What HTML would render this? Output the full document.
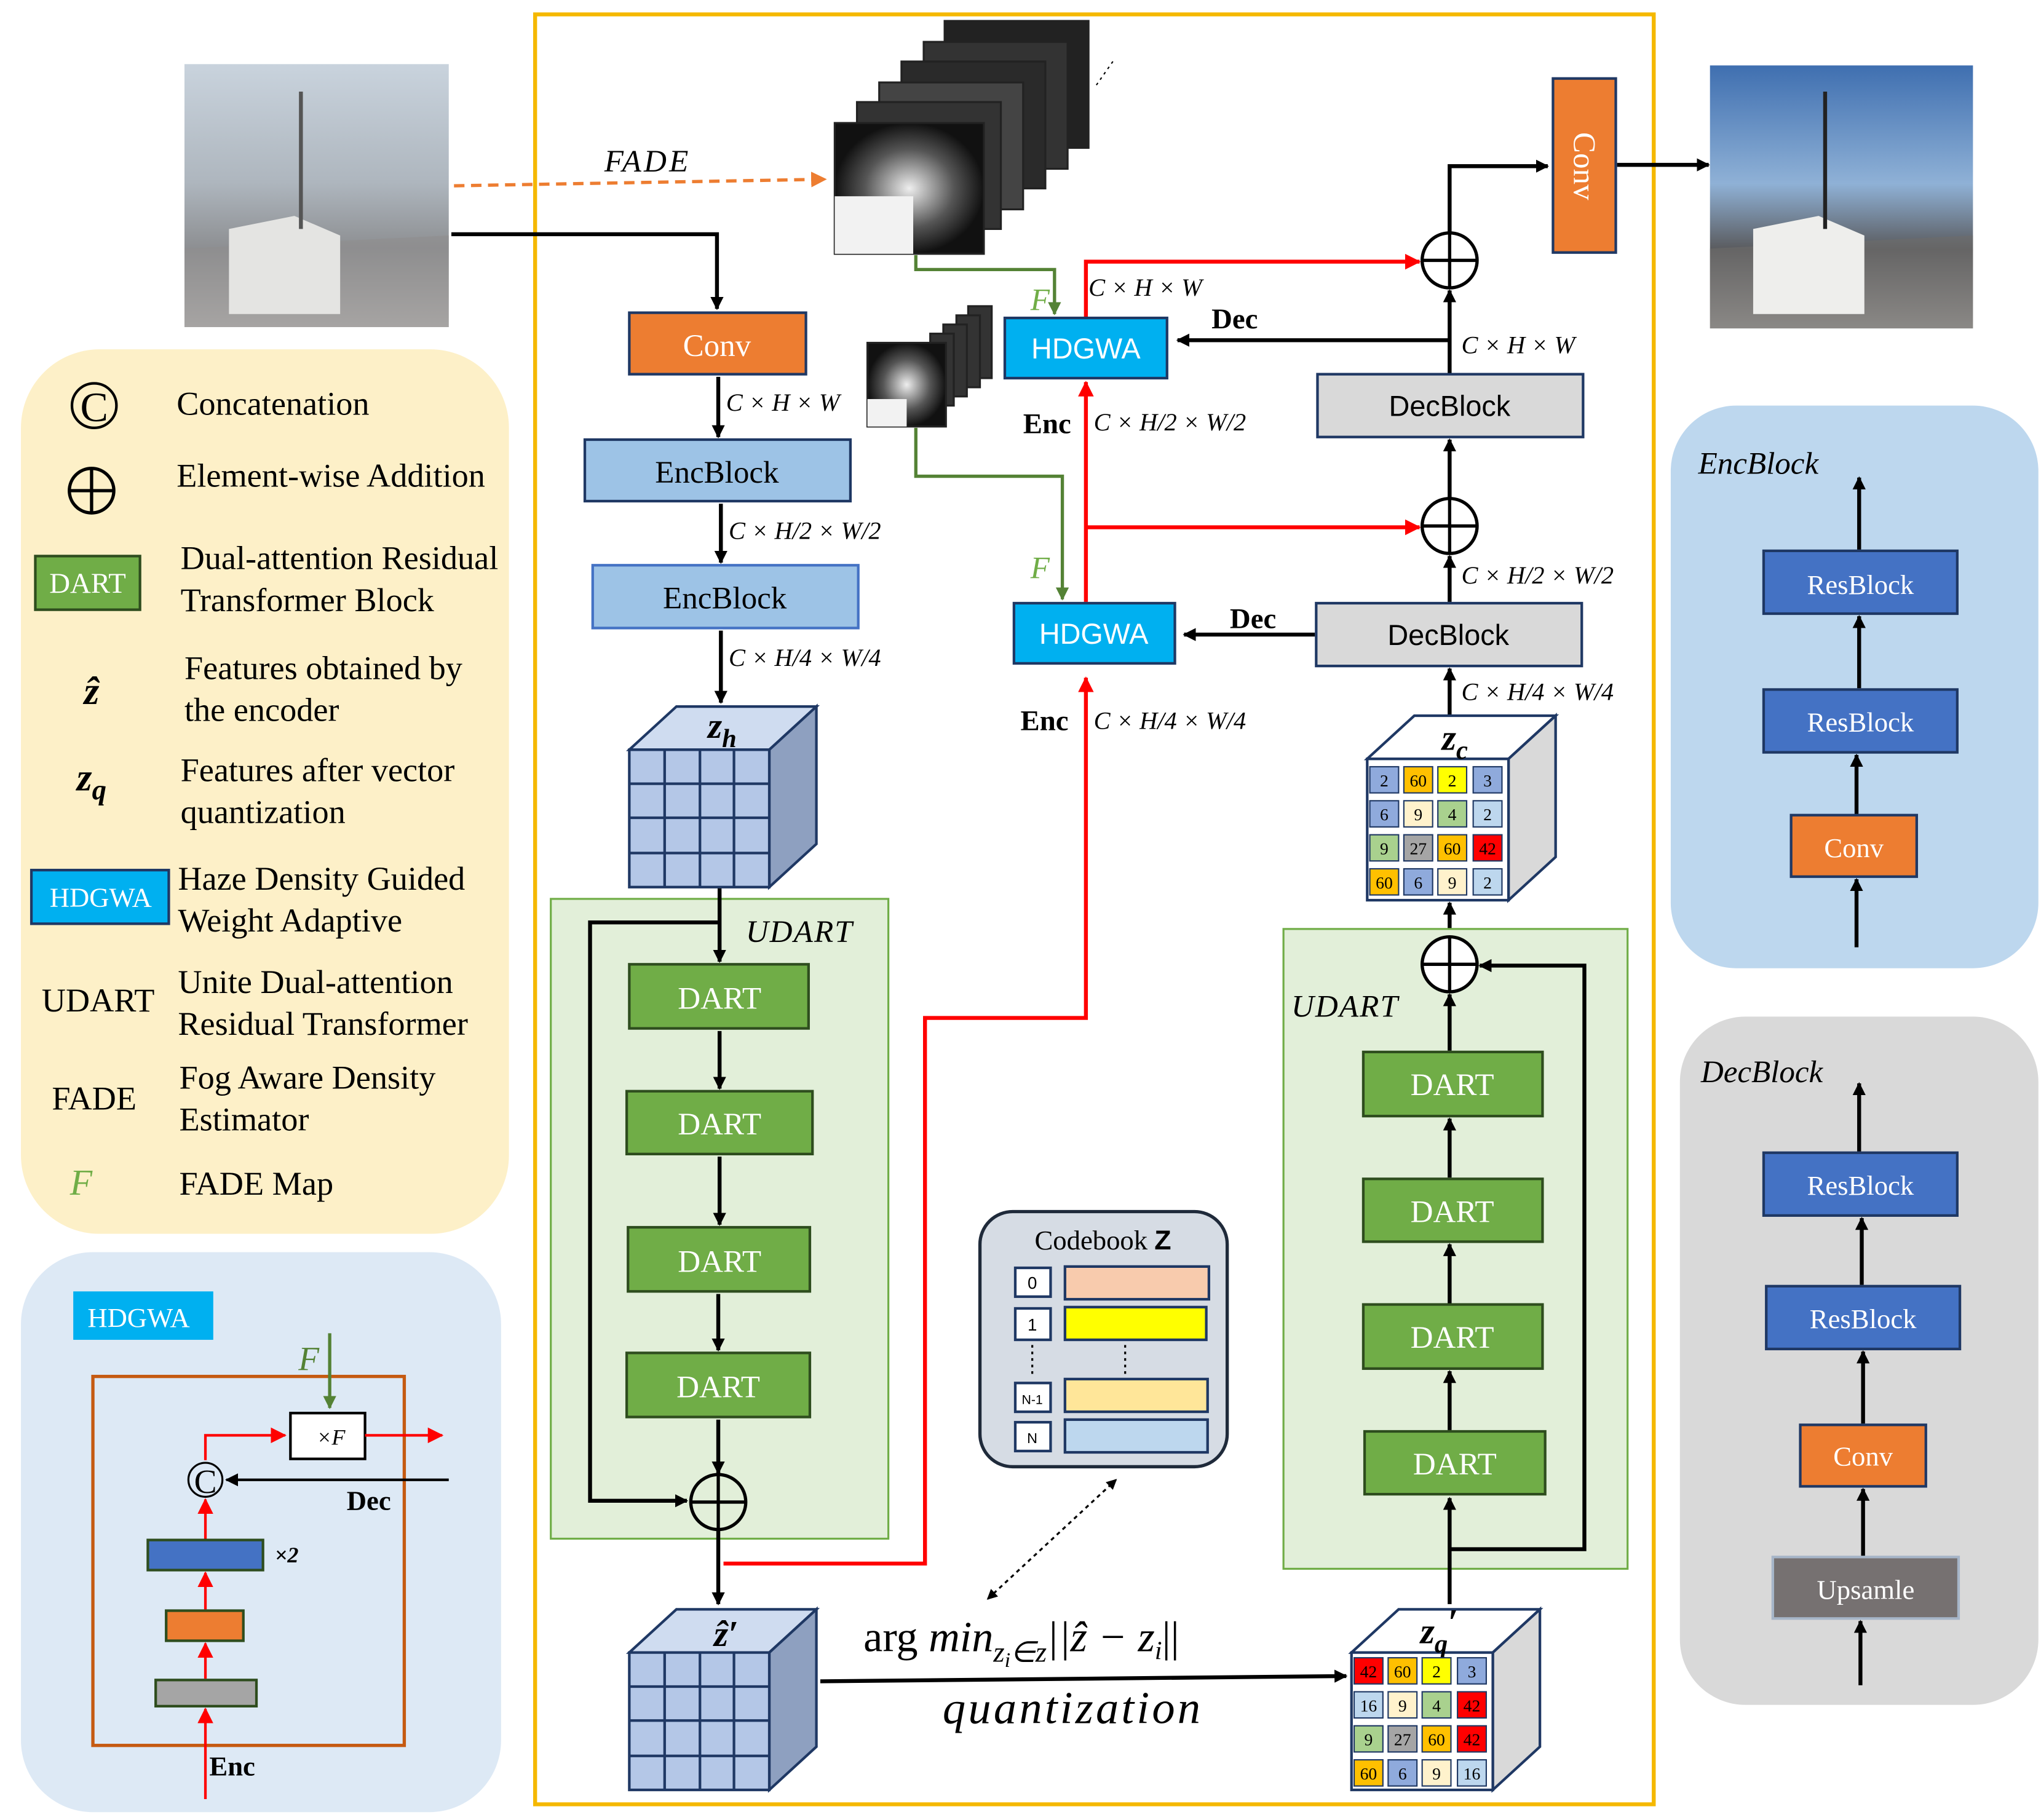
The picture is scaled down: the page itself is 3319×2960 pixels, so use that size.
<!DOCTYPE html>
<html><head><meta charset="utf-8"><style>
html,body{margin:0;padding:0;background:#fff;}
svg{display:block;}
text{font-family:"Liberation Serif",serif;}
.s{font-family:"Liberation Sans",sans-serif;}
</style></head><body>
<svg width="3319" height="2960" viewBox="0 0 1560 1391" preserveAspectRatio="none" xmlns="http://www.w3.org/2000/svg">
<defs>
<marker id="ab" markerWidth="10" markerHeight="10" refX="9" refY="5" orient="auto" markerUnits="userSpaceOnUse"><path d="M0,0 L10,5 L0,10 z" fill="#000"/></marker>
<marker id="ar" markerWidth="12" markerHeight="12" refX="11" refY="6" orient="auto" markerUnits="userSpaceOnUse"><path d="M0,0 L12,6 L0,12 z" fill="#f00"/></marker>
<marker id="ag" markerWidth="10" markerHeight="10" refX="9" refY="5" orient="auto" markerUnits="userSpaceOnUse"><path d="M0,0 L10,5 L0,10 z" fill="#548235"/></marker>
<marker id="ao" markerWidth="12" markerHeight="12" refX="11" refY="6" orient="auto" markerUnits="userSpaceOnUse"><path d="M0,0 L12,6 L0,12 z" fill="#ed7d31"/></marker>
<marker id="ad" markerWidth="8" markerHeight="8" refX="7" refY="4" orient="auto-start-reverse" markerUnits="userSpaceOnUse"><path d="M0,0 L8,4 L0,8 z" fill="#000"/></marker>
<linearGradient id="sky1" x1="0" y1="0" x2="0" y2="1"><stop offset="0" stop-color="#c9d3dd"/><stop offset="0.45" stop-color="#aeb6be"/><stop offset="0.7" stop-color="#8d8f92"/><stop offset="1" stop-color="#c8c5c2"/></linearGradient>
<linearGradient id="sky2" x1="0" y1="0" x2="0" y2="1"><stop offset="0" stop-color="#3f6fb0"/><stop offset="0.45" stop-color="#8fb1d6"/><stop offset="0.7" stop-color="#5a5b5e"/><stop offset="1" stop-color="#b5b2ae"/></linearGradient>
<radialGradient id="fm"><stop offset="0" stop-color="#eee"/><stop offset="0.6" stop-color="#555"/><stop offset="1" stop-color="#111"/></radialGradient>
</defs>

<!-- photos -->
<rect x="141" y="49" width="202" height="201" fill="url(#sky1)"/>
<path d="M141,190 L343,180 L343,250 L141,250z" fill="#8f8e8d" opacity="0.6"/>
<path d="M175,175 l50,-10 l35,15 l0,60 l-85,0z" fill="#e4e4e2"/>
<line x1="230" y1="70" x2="230" y2="175" stroke="#555" stroke-width="3"/>
<rect x="1307" y="50" width="201" height="201" fill="url(#sky2)"/>
<path d="M1307,190 L1508,180 L1508,251 L1307,251z" fill="#6e6c6a" opacity="0.6"/>
<path d="M1340,175 l50,-10 l35,15 l0,60 l-85,0z" fill="#eeeeec"/>
<line x1="1395" y1="70" x2="1395" y2="175" stroke="#222" stroke-width="3"/>

<!-- frame -->
<rect x="409" y="11" width="855" height="1368" fill="none" stroke="#f5b800" stroke-width="3"/>

<!-- legend -->
<rect x="16" y="267" width="373" height="676" rx="60" fill="#fdf0c8"/>
<circle cx="72" cy="310" r="17" fill="none" stroke="#000" stroke-width="2"/><text x="72" y="322" font-size="32" text-anchor="middle">C</text>
<g font-size="25.5">
<text x="135" y="317">Concatenation</text>
<text x="135" y="372">Element-wise Addition</text>
<text x="138" y="435">Dual-attention Residual</text><text x="138" y="467">Transformer Block</text>
<text x="141" y="519">Features obtained by</text><text x="141" y="551">the encoder</text>
<text x="138" y="597">Features after vector</text><text x="138" y="629">quantization</text>
<text x="136" y="680">Haze Density Guided</text><text x="136" y="712">Weight Adaptive</text>
<text x="75" y="773" text-anchor="middle">UDART</text>
<text x="136" y="759">Unite Dual-attention</text><text x="136" y="791">Residual Transformer</text>
<text x="72" y="848" text-anchor="middle">FADE</text>
<text x="137" y="832">Fog Aware Density</text><text x="137" y="864">Estimator</text>
<text x="137" y="913">FADE Map</text>
</g>
<circle cx="70" cy="375" r="17" fill="none" stroke="#000" stroke-width="2.5"/><line x1="53" y1="375" x2="87" y2="375" stroke="#000" stroke-width="2.5"/><line x1="70" y1="358" x2="70" y2="392" stroke="#000" stroke-width="2.5"/>
<rect x="27" y="425" width="80" height="41" fill="#70ad47" stroke="#2e4d1e" stroke-width="2"/><text x="67" y="453" font-size="22" fill="#fff" text-anchor="middle">DART</text>
<text x="70" y="538" font-size="30" font-style="italic" font-weight="bold" text-anchor="middle">ẑ</text>
<text x="70" y="604" font-size="30" font-style="italic" font-weight="bold" text-anchor="middle">z<tspan font-size="22" dy="7">q</tspan></text>
<rect x="24" y="665" width="105" height="41" fill="#00b0f0" stroke="#1f3864" stroke-width="2"/><text x="77" y="693" font-size="21" fill="#fff" text-anchor="middle">HDGWA</text>
<text x="62" y="913" font-size="28" font-style="italic" fill="#70ad47" text-anchor="middle">F</text>

<!-- HDGWA inset -->
<rect x="16" y="957" width="367" height="428" rx="55" fill="#dde9f5"/>
<rect x="56" y="987" width="107" height="37" fill="#00b0f0"/><text x="106" y="1014" font-size="21" fill="#fff" text-anchor="middle">HDGWA</text>
<rect x="71" y="1052" width="238" height="282" fill="none" stroke="#c55a11" stroke-width="2.5"/>
<line x1="252" y1="1019" x2="252" y2="1076" stroke="#548235" stroke-width="2.5" marker-end="url(#ag)"/>
<text x="236" y="1047" font-size="26" font-style="italic" fill="#548235" text-anchor="middle">F</text>
<rect x="222" y="1080" width="57" height="35" fill="#fff" stroke="#000" stroke-width="2"/><text x="253" y="1104" font-size="17" font-style="italic" text-anchor="middle">×F</text>
<polyline points="157,1116 157,1097 218,1097" fill="none" stroke="#f00" stroke-width="2" marker-end="url(#ar)"/>
<line x1="279" y1="1097" x2="338" y2="1097" stroke="#f00" stroke-width="2" marker-end="url(#ar)"/>
<circle cx="157" cy="1131" r="13" fill="none" stroke="#000" stroke-width="1.5"/><text x="157" y="1141" font-size="26" text-anchor="middle">C</text>
<line x1="343" y1="1131" x2="173" y2="1131" stroke="#000" stroke-width="2" marker-end="url(#ab)"/>
<text x="265" y="1154" font-size="21" font-weight="bold">Dec</text>
<rect x="113" y="1177" width="88" height="23" fill="#4472c4" stroke="#2e4d1e" stroke-width="2"/>
<text x="210" y="1194" font-size="17" font-weight="bold" font-style="italic">×2</text>
<rect x="127" y="1231" width="59" height="23" fill="#ed7d31" stroke="#2e4d1e" stroke-width="2"/>
<rect x="119" y="1284" width="77" height="20" fill="#a5a5a5" stroke="#2e4d1e" stroke-width="2"/>
<line x1="157" y1="1176" x2="157" y2="1146" stroke="#f00" stroke-width="2" marker-end="url(#ar)"/>
<line x1="157" y1="1230" x2="157" y2="1202" stroke="#f00" stroke-width="2" marker-end="url(#ar)"/>
<line x1="157" y1="1283" x2="157" y2="1256" stroke="#f00" stroke-width="2" marker-end="url(#ar)"/>
<line x1="157" y1="1375" x2="157" y2="1306" stroke="#f00" stroke-width="2" marker-end="url(#ar)"/>
<text x="160" y="1357" font-size="21" font-weight="bold">Enc</text>

<!-- EncBlock side -->
<rect x="1277" y="310" width="281" height="430" rx="50" fill="#bdd7ee"/>
<text x="1298" y="362" font-size="24" font-style="italic">EncBlock</text>
<rect x="1348" y="421" width="148" height="48" fill="#4472c4" stroke="#1f3864" stroke-width="2"/><text x="1422" y="454" font-size="21" fill="#fff" text-anchor="middle">ResBlock</text>
<rect x="1348" y="527" width="148" height="48" fill="#4472c4" stroke="#1f3864" stroke-width="2"/><text x="1422" y="559" font-size="21" fill="#fff" text-anchor="middle">ResBlock</text>
<rect x="1369" y="623" width="96" height="47" fill="#ed7d31" stroke="#1f3864" stroke-width="2"/><text x="1417" y="655" font-size="21" fill="#fff" text-anchor="middle">Conv</text>
<line x1="1421" y1="420" x2="1421" y2="365" stroke="#000" stroke-width="3" marker-end="url(#ab)"/>
<line x1="1421" y1="526" x2="1421" y2="471" stroke="#000" stroke-width="3" marker-end="url(#ab)"/>
<line x1="1419" y1="622" x2="1419" y2="577" stroke="#000" stroke-width="3" marker-end="url(#ab)"/>
<line x1="1419" y1="724" x2="1419" y2="672" stroke="#000" stroke-width="3" marker-end="url(#ab)"/>

<!-- DecBlock side -->
<rect x="1284" y="777" width="274" height="526" rx="50" fill="#d9d9d9"/>
<text x="1300" y="827" font-size="24" font-style="italic">DecBlock</text>
<rect x="1348" y="881" width="148" height="48" fill="#4472c4" stroke="#1f3864" stroke-width="2"/><text x="1422" y="913" font-size="21" fill="#fff" text-anchor="middle">ResBlock</text>
<rect x="1350" y="983" width="148" height="48" fill="#4472c4" stroke="#1f3864" stroke-width="2"/><text x="1424" y="1015" font-size="21" fill="#fff" text-anchor="middle">ResBlock</text>
<rect x="1376" y="1089" width="96" height="47" fill="#ed7d31" stroke="#1f3864" stroke-width="2"/><text x="1424" y="1120" font-size="21" fill="#fff" text-anchor="middle">Conv</text>
<rect x="1355" y="1190" width="142" height="47" fill="#767171" stroke="#a6b5c8" stroke-width="2"/><text x="1426" y="1222" font-size="21" fill="#fff" text-anchor="middle">Upsamle</text>
<line x1="1421" y1="880" x2="1421" y2="828" stroke="#000" stroke-width="3" marker-end="url(#ab)"/>
<line x1="1423" y1="982" x2="1423" y2="931" stroke="#000" stroke-width="3" marker-end="url(#ab)"/>
<line x1="1424" y1="1088" x2="1424" y2="1033" stroke="#000" stroke-width="3" marker-end="url(#ab)"/>
<line x1="1424" y1="1189" x2="1424" y2="1138" stroke="#000" stroke-width="3" marker-end="url(#ab)"/>
<line x1="1422" y1="1288" x2="1422" y2="1239" stroke="#000" stroke-width="3" marker-end="url(#ab)"/>

<!-- feature map stacks -->
<g stroke="#222" stroke-width="1.5">
<rect x="722" y="16" width="110" height="97" fill="#222"/>
<rect x="706" y="32" width="110" height="97" fill="#333"/>
<rect x="689" y="47" width="110" height="97" fill="#2a2a2a"/>
<rect x="672" y="63" width="110" height="97" fill="#444"/>
<rect x="655" y="78" width="110" height="97" fill="#333"/>
<rect x="638" y="94" width="114" height="100" fill="url(#fm)"/>
<rect x="740" y="234" width="18" height="55" fill="#333"/>
<rect x="731" y="241" width="18" height="55" fill="#333"/>
<rect x="721" y="248" width="18" height="55" fill="#333"/>
<rect x="711" y="255" width="18" height="55" fill="#333"/>
<rect x="663" y="262" width="60" height="64" fill="url(#fm)"/>
</g>
<rect x="638" y="150" width="60" height="44" fill="#f2f2f2"/>
<rect x="663" y="305" width="30" height="21" fill="#f2f2f2"/>
<line x1="838" y1="65" x2="852" y2="45" stroke="#000" stroke-dasharray="2,3"/>

<!-- FADE -->
<line x1="347" y1="142" x2="631" y2="137" stroke="#ed7d31" stroke-width="2.5" stroke-dasharray="8,5" marker-end="url(#ao)"/>
<text x="495" y="131" font-size="24" font-style="italic" text-anchor="middle" letter-spacing="2">FADE</text>
<polyline points="345,179 548,179 548,236" fill="none" stroke="#000" stroke-width="3" marker-end="url(#ab)"/>

<!-- encoder -->
<rect x="481" y="239" width="135" height="47" fill="#ed7d31" stroke="#1f3864" stroke-width="2"/><text x="548" y="272" font-size="24" fill="#fff" text-anchor="middle">Conv</text>
<line x1="549" y1="288" x2="549" y2="334" stroke="#000" stroke-width="3" marker-end="url(#ab)"/>
<text x="555" y="314" font-size="19" font-style="italic">C × H × W</text>
<rect x="447" y="336" width="203" height="47" fill="#9dc3e6" stroke="#1f3864" stroke-width="2"/><text x="548" y="369" font-size="24" text-anchor="middle">EncBlock</text>
<line x1="551" y1="385" x2="551" y2="430" stroke="#000" stroke-width="3" marker-end="url(#ab)"/>
<text x="557" y="412" font-size="19" font-style="italic">C × H/2 × W/2</text>
<rect x="453" y="432" width="203" height="48" fill="#9dc3e6" stroke="#4472c4" stroke-width="2"/><text x="554" y="465" font-size="24" text-anchor="middle">EncBlock</text>
<line x1="551" y1="482" x2="551" y2="537" stroke="#000" stroke-width="3" marker-end="url(#ab)"/>
<text x="557" y="509" font-size="19" font-style="italic">C × H/4 × W/4</text>

<!-- zh cube -->
<g stroke="#1f3864" stroke-width="2">
<path d="M481,573 L517,540 L624,540 L588,573z" fill="#cfdcf0"/>
<path d="M588,573 L624,540 L624,645 L588,678z" fill="#8ea0c0"/>
<rect x="481" y="573" width="107" height="105" fill="#b4c7e7"/>
<path d="M508,573V678M535,573V678M561,573V678M481,599H588M481,625H588M481,652H588" fill="none"/>
</g>
<text x="552" y="564" font-size="28" font-style="italic" font-weight="bold" text-anchor="middle">z<tspan font-size="20" dy="7">h</tspan></text>

<!-- UDART left -->
<rect x="421" y="687" width="258" height="489" fill="#e2efd9" stroke="#70ad47" stroke-width="1.5"/>
<text x="570" y="720" font-size="24" font-style="italic" letter-spacing="1">UDART</text>
<line x1="550" y1="679" x2="550" y2="735" stroke="#000" stroke-width="3" marker-end="url(#ab)"/>
<polyline points="550,705 451,705 451,1147 525,1147" fill="none" stroke="#000" stroke-width="3" marker-end="url(#ab)"/>
<g fill="#70ad47" stroke="#2e4d1e" stroke-width="2">
<rect x="481" y="737" width="137" height="49"/><rect x="479" y="834" width="142" height="48"/><rect x="480" y="938" width="139" height="49"/><rect x="479" y="1034" width="140" height="49"/>
</g>
<g font-size="24" fill="#fff" text-anchor="middle"><text x="550" y="771">DART</text><text x="550" y="867">DART</text><text x="550" y="972">DART</text><text x="549" y="1068">DART</text></g>
<line x1="550" y1="788" x2="550" y2="832" stroke="#000" stroke-width="3" marker-end="url(#ab)"/>
<line x1="550" y1="884" x2="550" y2="936" stroke="#000" stroke-width="3" marker-end="url(#ab)"/>
<line x1="549" y1="989" x2="549" y2="1032" stroke="#000" stroke-width="3" marker-end="url(#ab)"/>
<line x1="549" y1="1085" x2="549" y2="1126" stroke="#000" stroke-width="3" marker-end="url(#ab)"/>
<g stroke="#000" stroke-width="2.5" fill="none"><circle cx="549" cy="1148" r="21"/><path d="M528,1148H570M549,1127V1169"/></g>
<line x1="549" y1="1169" x2="549" y2="1226" stroke="#000" stroke-width="3" marker-end="url(#ab)"/>

<!-- z hat' cube -->
<g stroke="#1f3864" stroke-width="2">
<path d="M481,1263 L517,1230 L624,1230 L588,1263z" fill="#cfdcf0"/>
<path d="M588,1263 L624,1230 L624,1335 L588,1368z" fill="#8ea0c0"/>
<rect x="481" y="1263" width="107" height="105" fill="#b4c7e7"/>
<path d="M508,1263V1368M535,1263V1368M561,1263V1368M481,1289H588M481,1315H588M481,1342H588" fill="none"/>
</g>
<text x="555" y="1258" font-size="28" font-style="italic" font-weight="bold" text-anchor="middle">ẑ′</text>

<!-- red paths -->
<polyline points="553,1195 707,1195 707,778 830,778 830,518" fill="none" stroke="#f00" stroke-width="3" marker-end="url(#ar)"/>
<polyline points="830,460 830,292" fill="none" stroke="#f00" stroke-width="3" marker-end="url(#ar)"/>
<polyline points="830,242 830,200 1085,200" fill="none" stroke="#f00" stroke-width="3" marker-end="url(#ar)"/>
<line x1="830" y1="403" x2="1085" y2="403" stroke="#f00" stroke-width="3" marker-end="url(#ar)"/>

<!-- green -->
<polyline points="700,195 700,206 806,206 806,240" fill="none" stroke="#548235" stroke-width="2.5" marker-end="url(#ag)"/>
<polyline points="700,327 700,364 812,364 812,458" fill="none" stroke="#548235" stroke-width="2.5" marker-end="url(#ag)"/>
<text x="795" y="237" font-size="24" font-style="italic" fill="#70ad47" text-anchor="middle">F</text>
<text x="795" y="442" font-size="24" font-style="italic" fill="#70ad47" text-anchor="middle">F</text>

<!-- HDGWA boxes -->
<rect x="768" y="243" width="124" height="46" fill="#00b0f0" stroke="#1f3864" stroke-width="2"/><text x="830" y="274" class="s" font-size="22" fill="#fff" text-anchor="middle">HDGWA</text>
<rect x="775" y="461" width="123" height="46" fill="#00b0f0" stroke="#1f3864" stroke-width="2"/><text x="836" y="492" class="s" font-size="22" fill="#fff" text-anchor="middle">HDGWA</text>
<text x="832" y="226" font-size="19" font-style="italic">C × H × W</text>
<text x="782" y="331" font-size="22" font-weight="bold">Enc</text><text x="836" y="329" font-size="19" font-style="italic">C × H/2 × W/2</text>
<text x="780" y="558" font-size="22" font-weight="bold">Enc</text><text x="836" y="557" font-size="19" font-style="italic">C × H/4 × W/4</text>

<!-- decoder -->
<rect x="1187" y="60" width="48" height="133" fill="#ed7d31" stroke="#1f3864" stroke-width="2"/>
<text x="1211" y="127" font-size="24" fill="#fff" text-anchor="middle" transform="rotate(90 1211 127)" dy="8">Conv</text>
<polyline points="1108,178 1108,127 1183,127" fill="none" stroke="#000" stroke-width="3" marker-end="url(#ab)"/>
<line x1="1236" y1="126" x2="1306" y2="126" stroke="#000" stroke-width="3" marker-end="url(#ab)"/>
<g stroke="#000" stroke-width="2.5" fill="none"><circle cx="1108" cy="199" r="21"/><path d="M1087,199H1129M1108,178V220"/><circle cx="1108" cy="402" r="21"/><path d="M1087,402H1129M1108,381V423"/></g>
<line x1="1108" y1="285" x2="1108" y2="222" stroke="#000" stroke-width="3" marker-end="url(#ab)"/>
<polyline points="1108,260 900,260" fill="none" stroke="#000" stroke-width="3" marker-end="url(#ab)"/>
<text x="926" y="251" font-size="22" font-weight="bold">Dec</text>
<text x="1117" y="270" font-size="19" font-style="italic">C × H × W</text>
<rect x="1007" y="286" width="203" height="48" fill="#d9d9d9" stroke="#1f3864" stroke-width="2"/><text x="1108" y="318" class="s" font-size="22" text-anchor="middle">DecBlock</text>
<line x1="1108" y1="381" x2="1108" y2="336" stroke="#000" stroke-width="3" marker-end="url(#ab)"/>
<line x1="1108" y1="460" x2="1108" y2="425" stroke="#000" stroke-width="3" marker-end="url(#ab)"/>
<text x="1117" y="446" font-size="19" font-style="italic">C × H/2 × W/2</text>
<rect x="1006" y="461" width="203" height="48" fill="#d9d9d9" stroke="#1f3864" stroke-width="2"/><text x="1107" y="493" class="s" font-size="22" text-anchor="middle">DecBlock</text>
<line x1="1005" y1="485" x2="905" y2="485" stroke="#000" stroke-width="3" marker-end="url(#ab)"/>
<text x="940" y="480" font-size="22" font-weight="bold">Dec</text>
<line x1="1108" y1="548" x2="1108" y2="511" stroke="#000" stroke-width="3" marker-end="url(#ab)"/>
<text x="1117" y="535" font-size="19" font-style="italic">C × H/4 × W/4</text>

<!-- zc cube -->
<g stroke="#1f3864" stroke-width="2">
<path d="M1045,580 L1081,547 L1189,547 L1153,580z" fill="#fff"/>
<path d="M1153,580 L1189,547 L1189,655 L1153,688z" fill="#d9d9d9"/>
<rect x="1045" y="580" width="108" height="108" fill="#fff"/>
</g>
<text x="1112" y="573" font-size="28" font-style="italic" font-weight="bold" text-anchor="middle">z<tspan font-size="20" dy="7">c</tspan></text>
<g font-size="13" text-anchor="middle" stroke-width="1" stroke="#1f3864">
<rect x="1047" y="586" width="22" height="20" fill="#8faadc"/><rect x="1073" y="586" width="22" height="20" fill="#ffc000"/><rect x="1099" y="586" width="22" height="20" fill="#ffff00"/><rect x="1126" y="586" width="22" height="20" fill="#8faadc"/>
<rect x="1047" y="612" width="22" height="20" fill="#8faadc"/><rect x="1073" y="612" width="22" height="20" fill="#fff2cc"/><rect x="1099" y="612" width="22" height="20" fill="#a9d18e"/><rect x="1126" y="612" width="22" height="20" fill="#bdd7ee"/>
<rect x="1047" y="638" width="22" height="20" fill="#a9d18e"/><rect x="1073" y="638" width="22" height="20" fill="#a5a5a5"/><rect x="1099" y="638" width="22" height="20" fill="#ffc000"/><rect x="1126" y="638" width="22" height="20" fill="#ff0000"/>
<rect x="1047" y="664" width="22" height="20" fill="#ffc000"/><rect x="1073" y="664" width="22" height="20" fill="#8faadc"/><rect x="1099" y="664" width="22" height="20" fill="#fff2cc"/><rect x="1126" y="664" width="22" height="20" fill="#bdd7ee"/>
</g>
<g font-size="13" text-anchor="middle">
<text x="1058" y="601">2</text><text x="1084" y="601">60</text><text x="1110" y="601">2</text><text x="1137" y="601">3</text>
<text x="1058" y="627">6</text><text x="1084" y="627">9</text><text x="1110" y="627">4</text><text x="1137" y="627">2</text>
<text x="1058" y="653">9</text><text x="1084" y="653">27</text><text x="1110" y="653">60</text><text x="1137" y="653">42</text>
<text x="1058" y="679">60</text><text x="1084" y="679">6</text><text x="1110" y="679">9</text><text x="1137" y="679">2</text>
</g>
<line x1="1108" y1="716" x2="1108" y2="690" stroke="#000" stroke-width="3" marker-end="url(#ab)"/>

<!-- UDART right -->
<rect x="981" y="710" width="263" height="489" fill="#e2efd9" stroke="#70ad47" stroke-width="1.5"/>
<g stroke="#000" stroke-width="2.5" fill="#fff"><circle cx="1108" cy="737" r="21"/></g>
<g stroke="#000" stroke-width="2.5" fill="none"><path d="M1087,737H1129M1108,716V758"/></g>
<text x="987" y="777" font-size="24" font-style="italic" letter-spacing="1">UDART</text>
<g fill="#70ad47" stroke="#2e4d1e" stroke-width="2">
<rect x="1042" y="804" width="137" height="49"/><rect x="1042" y="901" width="137" height="48"/><rect x="1042" y="997" width="137" height="49"/><rect x="1043" y="1094" width="138" height="48"/>
</g>
<g font-size="24" fill="#fff" text-anchor="middle"><text x="1110" y="837">DART</text><text x="1110" y="934">DART</text><text x="1110" y="1030">DART</text><text x="1112" y="1127">DART</text></g>
<line x1="1108" y1="803" x2="1108" y2="760" stroke="#000" stroke-width="3" marker-end="url(#ab)"/>
<line x1="1108" y1="900" x2="1108" y2="855" stroke="#000" stroke-width="3" marker-end="url(#ab)"/>
<line x1="1108" y1="996" x2="1108" y2="951" stroke="#000" stroke-width="3" marker-end="url(#ab)"/>
<line x1="1108" y1="1093" x2="1108" y2="1048" stroke="#000" stroke-width="3" marker-end="url(#ab)"/>
<line x1="1108" y1="1226" x2="1108" y2="1145" stroke="#000" stroke-width="3" marker-end="url(#ab)"/>
<polyline points="1108,1184 1211,1184 1211,738 1131,738" fill="none" stroke="#000" stroke-width="3" marker-end="url(#ab)"/>

<!-- zq' cube -->
<g stroke="#1f3864" stroke-width="2">
<path d="M1033,1263 L1069,1230 L1177,1230 L1141,1263z" fill="#fff"/>
<path d="M1141,1263 L1177,1230 L1177,1335 L1141,1368z" fill="#d9d9d9"/>
<rect x="1033" y="1263" width="108" height="105" fill="#fff"/>
</g>
<text x="1100" y="1256" font-size="28" font-style="italic" font-weight="bold" text-anchor="middle">z<tspan font-size="20" dy="7">q</tspan><tspan dy="-14">′</tspan></text>
<g stroke-width="1" stroke="#1f3864">
<rect x="1035" y="1267" width="22" height="20" fill="#ff0000"/><rect x="1061" y="1267" width="22" height="20" fill="#ffc000"/><rect x="1087" y="1267" width="22" height="20" fill="#ffff00"/><rect x="1114" y="1267" width="22" height="20" fill="#8faadc"/>
<rect x="1035" y="1293" width="22" height="20" fill="#bdd7ee"/><rect x="1061" y="1293" width="22" height="20" fill="#fff2cc"/><rect x="1087" y="1293" width="22" height="20" fill="#a9d18e"/><rect x="1114" y="1293" width="22" height="20" fill="#ff0000"/>
<rect x="1035" y="1319" width="22" height="20" fill="#a9d18e"/><rect x="1061" y="1319" width="22" height="20" fill="#a5a5a5"/><rect x="1087" y="1319" width="22" height="20" fill="#ffc000"/><rect x="1114" y="1319" width="22" height="20" fill="#ff0000"/>
<rect x="1035" y="1345" width="22" height="20" fill="#ffc000"/><rect x="1061" y="1345" width="22" height="20" fill="#8faadc"/><rect x="1087" y="1345" width="22" height="20" fill="#fff2cc"/><rect x="1114" y="1345" width="22" height="20" fill="#bdd7ee"/>
</g>
<g font-size="13" text-anchor="middle">
<text x="1046" y="1282">42</text><text x="1072" y="1282">60</text><text x="1098" y="1282">2</text><text x="1125" y="1282">3</text>
<text x="1046" y="1308">16</text><text x="1072" y="1308">9</text><text x="1098" y="1308">4</text><text x="1125" y="1308">42</text>
<text x="1046" y="1334">9</text><text x="1072" y="1334">27</text><text x="1098" y="1334">60</text><text x="1125" y="1334">42</text>
<text x="1046" y="1360">60</text><text x="1072" y="1360">6</text><text x="1098" y="1360">9</text><text x="1125" y="1360">16</text>
</g>

<!-- quantization -->
<line x1="627" y1="1285" x2="1029" y2="1281" stroke="#000" stroke-width="3" marker-end="url(#ab)"/>
<text x="660" y="1262" font-size="33">arg <tspan font-style="italic">min</tspan><tspan font-size="22" font-style="italic" dy="8">z</tspan><tspan font-size="16" font-style="italic" dy="4">i</tspan><tspan font-size="22" font-style="italic" dy="-4">∈z</tspan><tspan dy="-8" font-style="italic">||ẑ − z</tspan><tspan font-size="20" font-style="italic" dy="6">i</tspan><tspan dy="-6">||</tspan></text>
<text x="820" y="1317" font-size="35" font-style="italic" text-anchor="middle" letter-spacing="2">quantization</text>

<!-- codebook -->
<rect x="749" y="926" width="189" height="195" rx="25" fill="#d6dce4" stroke="#1f2a3a" stroke-width="2.5"/>
<text x="843" y="955" font-size="21" text-anchor="middle">Codebook <tspan class="s" font-weight="bold">Z</tspan></text>
<g stroke="#1f3864" stroke-width="2">
<rect x="776" y="969" width="27" height="22" fill="#fff"/><rect x="814" y="968" width="110" height="25" fill="#f8cbad"/>
<rect x="776" y="1000" width="27" height="24" fill="#fff"/><rect x="814" y="999" width="108" height="25" fill="#ffff00"/>
<rect x="776" y="1057" width="27" height="22" fill="#fff"/><rect x="814" y="1054" width="109" height="25" fill="#ffe699"/>
<rect x="776" y="1087" width="27" height="22" fill="#fff"/><rect x="814" y="1085" width="109" height="25" fill="#bdd7ee"/>
</g>
<g font-size="13" text-anchor="middle"><text x="789" y="985" class="s">0</text><text x="789" y="1017" class="s">1</text><text x="789" y="1073" class="s" font-size="10">N-1</text><text x="789" y="1103" class="s" font-size="11">N</text></g>
<line x1="789" y1="1028" x2="789" y2="1052" stroke="#000" stroke-dasharray="2,3" stroke-width="1.5"/>
<line x1="860" y1="1028" x2="860" y2="1052" stroke="#000" stroke-dasharray="2,3" stroke-width="1.5"/>
<line x1="755" y1="1222" x2="853" y2="1131" stroke="#000" stroke-width="1.5" stroke-dasharray="3,3" marker-start="url(#ad)" marker-end="url(#ad)"/>
</svg>
</body></html>
